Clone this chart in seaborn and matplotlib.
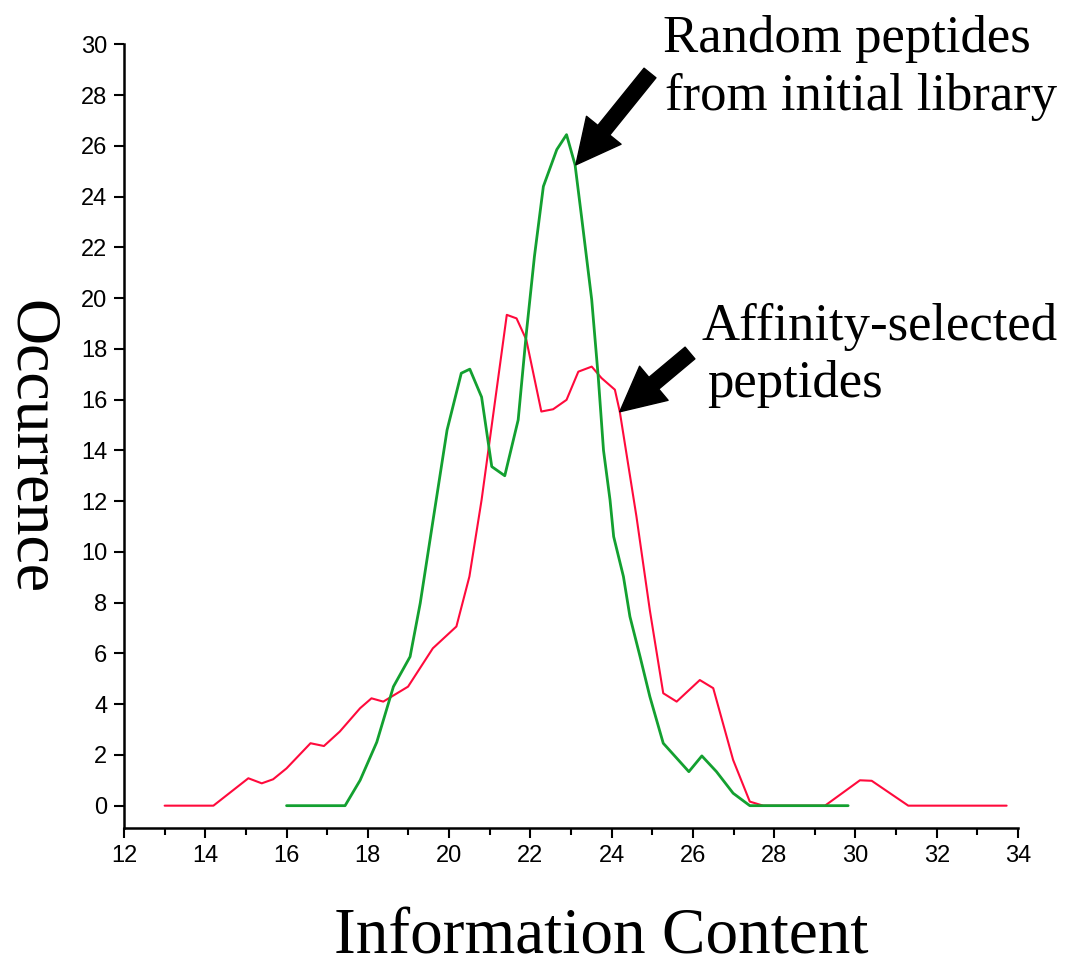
import matplotlib
matplotlib.use("Agg")
import matplotlib.pyplot as plt
import seaborn as sns
import pandas as pd
from matplotlib.ticker import MultipleLocator

# ---- data ----
random_x = [16.0, 17.44, 17.81, 18.22, 18.63, 19.04, 19.29, 19.62, 19.95, 20.3, 20.51,
            20.8, 21.05, 21.37, 21.7, 21.9, 22.1, 22.32, 22.65, 22.89, 23.1, 23.26,
            23.51, 23.67, 23.8, 23.96, 24.05, 24.29, 24.45, 24.7, 24.94, 25.27, 25.9,
            26.22, 26.58, 26.99, 27.4, 29.82]
random_y = [0, 0, 1.0, 2.5, 4.69, 5.87, 7.98, 11.4, 14.8, 17.04, 17.2,
            16.1, 13.36, 13.0, 15.2, 18.6, 21.64, 24.4, 25.85, 26.44, 25.25, 23.2,
            19.93, 16.9, 14.0, 12.05, 10.6, 9.03, 7.45, 5.87, 4.3, 2.46, 1.34,
            1.96, 1.34, 0.49, 0, 0]

selected_x = [13.0, 14.2, 15.06, 15.39, 15.67, 16.0, 16.59, 16.92, 17.31, 17.81, 18.09,
              18.38, 18.99, 19.6, 20.18, 20.5, 20.8, 21.42, 21.66, 21.9, 22.27, 22.56,
              22.89, 23.18, 23.51, 23.75, 24.08, 24.2, 24.61, 24.94, 25.27, 25.6, 26.17,
              26.5, 26.99, 27.4, 27.73, 29.25, 30.11, 30.4, 31.3, 33.72]
selected_y = [0, 0, 1.08, 0.88, 1.04, 1.47, 2.46, 2.35, 2.92, 3.84, 4.23,
              4.1, 4.69, 6.2, 7.06, 9.03, 12.05, 19.34, 19.2, 18.36, 15.53, 15.62,
              15.99, 17.1, 17.3, 16.85, 16.39, 15.53, 11.4, 7.7, 4.43, 4.1, 4.95,
              4.63, 1.8, 0.16, 0, 0, 1.0, 0.98, 0, 0]

x_ticks = list(range(12, 35, 2))
y_ticks = list(range(0, 31, 2))

label_random = ["Random peptides", "from initial library"]
label_selected = ["Affinity-selected", "peptides"]
xlabel = "Information Content"
ylabel = "Occurrence"

# ---- style ----
sns.set_style("ticks")
plt.rcParams["font.family"] = ["Liberation Sans", "DejaVu Sans"]
plt.rcParams["text.color"] = "black"
plt.rcParams["axes.labelcolor"] = "black"
plt.rcParams["xtick.color"] = "black"
plt.rcParams["ytick.color"] = "black"

W, H = 1071, 967
fig = plt.figure(figsize=(W / 100, H / 100), dpi=100)
ax = fig.add_axes([124 / W, 1 - 828 / H, (1018 - 124) / W, (828 - 44.3) / H])

df_r = pd.DataFrame({"x": random_x, "y": random_y})
df_s = pd.DataFrame({"x": selected_x, "y": selected_y})

sns.lineplot(data=df_s, x="x", y="y", ax=ax, color="#ff0a3c", linewidth=1.5,
             sort=False, estimator=None)
sns.lineplot(data=df_r, x="x", y="y", ax=ax, color="#13a030", linewidth=2.0,
             sort=False, estimator=None)

ax.set_xlim(12, 34)
ax.set_ylim(-0.88, 30)
ax.set_xticks(x_ticks)
ax.set_yticks(y_ticks)
ax.xaxis.set_minor_locator(MultipleLocator(1))
ax.set_xlabel("")
ax.set_ylabel("")
sns.despine(ax=ax)
for s in ("left", "bottom"):
    ax.spines[s].set_linewidth(1.8)
    ax.spines[s].set_color("black")
ax.tick_params(axis="both", which="major", length=7, width=1.5, pad=5,
               labelsize=17, colors="black", direction="out")
ax.tick_params(axis="x", which="minor", length=5, width=1.5, direction="out",
               colors="black")

serif = ["Liberation Serif", "DejaVu Serif"]
fig.text(601 / W, 1 - 953 / H, xlabel, fontsize=47, family=serif,
         ha="center", va="baseline", color="black")
fig.text(30 / W, 1 - 447 / H, ylabel, fontsize=46, family=serif,
         ha="center", va="center", rotation=-90, color="black")

fig.text(663 / W, 1 - 52 / H, label_random[0], fontsize=38, family=serif,
         ha="left", va="baseline", color="black")
fig.text(665 / W, 1 - 110 / H, label_random[1], fontsize=38, family=serif,
         ha="left", va="baseline", color="black")
fig.text(702 / W, 1 - 340 / H, label_selected[0], fontsize=38, family=serif,
         ha="left", va="baseline", color="black")
fig.text(707 / W, 1 - 397 / H, label_selected[1], fontsize=38, family=serif,
         ha="left", va="baseline", color="black")

arrow_style = "simple,head_length=1.6,head_width=1.6,tail_width=0.55"
ax.annotate("", xy=(23.12, 25.25), xycoords="data",
            xytext=(650, H - 73), textcoords="figure pixels",
            arrowprops=dict(arrowstyle=arrow_style, color="black",
                            shrinkA=0, shrinkB=0, mutation_scale=20))
ax.annotate("", xy=(24.2, 15.52), xycoords="data",
            xytext=(690, H - 353), textcoords="figure pixels",
            arrowprops=dict(arrowstyle=arrow_style, color="black",
                            shrinkA=0, shrinkB=0, mutation_scale=20))

fig.savefig("out.png", dpi=100)
